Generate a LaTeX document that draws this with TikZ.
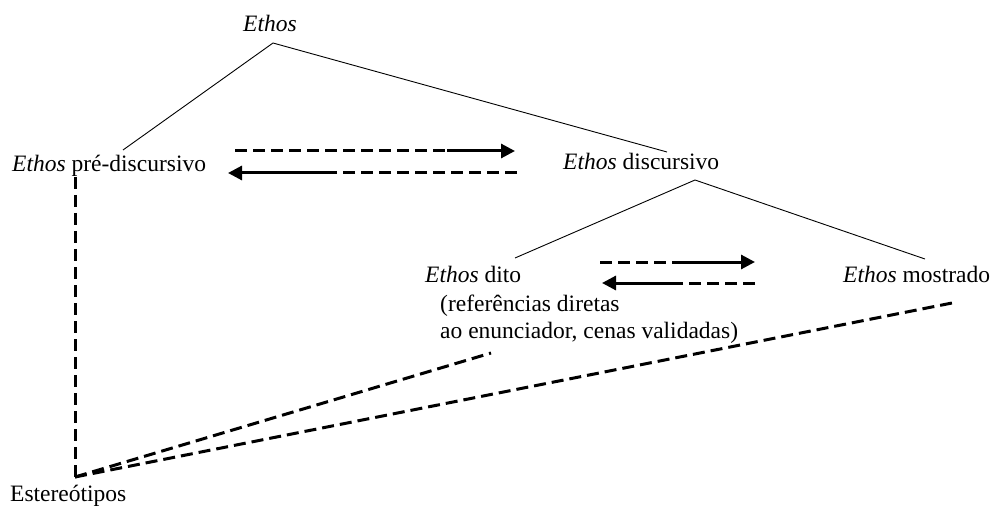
\documentclass[tikz,border=0pt]{standalone}
\usepackage{fontspec}
\setmainfont{Liberation Serif}
\usetikzlibrary{arrows.meta}
\begin{document}
\begin{tikzpicture}[x=1pt,y=-1pt,
  lbl/.style={inner sep=0pt, anchor=base west, font=\fontsize{23.5}{28}\selectfont},
  thin/.style={line width=0.9pt},
  dsh/.style={line width=3pt, dash pattern=on 12pt off 6pt},
  sol/.style={line width=3pt, -{Triangle[length=14pt,width=14pt]}}]
\useasboundingbox (0,0) rectangle (997,508);
% labels
\node[lbl] (ethos) at (243,32) {\textit{Ethos}};
\node[lbl] (pre) at (12,172) {\textit{Ethos} pré-discursivo};
\node[lbl] (disc) at (563,170) {\textit{Ethos} discursivo};
\node[lbl] (dito) at (425,282) {\textit{Ethos} dito};
\node[lbl] (ref1) at (440,311) {(referências diretas};
\node[lbl] (ref2) at (440,338) {ao enunciador, cenas validadas)};
\node[lbl] (most) at (843,282) {\textit{Ethos} mostrado};
\node[lbl] (est) at (10,501) {Estereótipos};
% tree coordinates
\coordinate (apexA) at (273,43);
\coordinate (preTop) at (123,150);
\coordinate (discTop) at (667,152);
\coordinate (apexB) at (695,180);
\coordinate (ditoTop) at (515,258);
\coordinate (mostTop) at (925,259);
\draw[thin] (preTop) -- (apexA) -- (discTop);
\draw[thin] (ditoTop) -- (apexB) -- (mostTop);
% arrows between pre and disc
\coordinate (a1s) at (235,151);
\coordinate (a1m) at (447,151);
\coordinate (a1e) at (515,151);
\draw[dsh] (a1s) -- (a1m);
\draw[sol] (a1m) -- (a1e);
\coordinate (b1s) at (517,173);
\coordinate (b1m) at (333,173);
\coordinate (b1e) at (228,173);
\draw[dsh] (b1s) -- (b1m);
\draw[sol] (b1m) -- (b1e);
% arrows between dito and mostrado
\coordinate (a2s) at (600,262);
\coordinate (a2m) at (680,262);
\coordinate (a2e) at (755,262);
\draw[dsh] (a2s) -- (a2m);
\draw[sol] (a2m) -- (a2e);
\coordinate (b2s) at (755,283);
\coordinate (b2m) at (677,283);
\coordinate (b2e) at (602,283);
\draw[dsh] (b2s) -- (b2m);
\draw[sol] (b2m) -- (b2e);
% stereotypes dashed lines
\coordinate (preBot) at (75,177);
\coordinate (corner) at (75,477);
\coordinate (ditoBot) at (491,353);
\coordinate (mostBot) at (952,303);
\draw[dsh] (preBot) -- (corner);
\draw[dsh] (corner) -- (ditoBot);
\draw[dsh] (corner) -- (mostBot);
\end{tikzpicture}
\end{document}
